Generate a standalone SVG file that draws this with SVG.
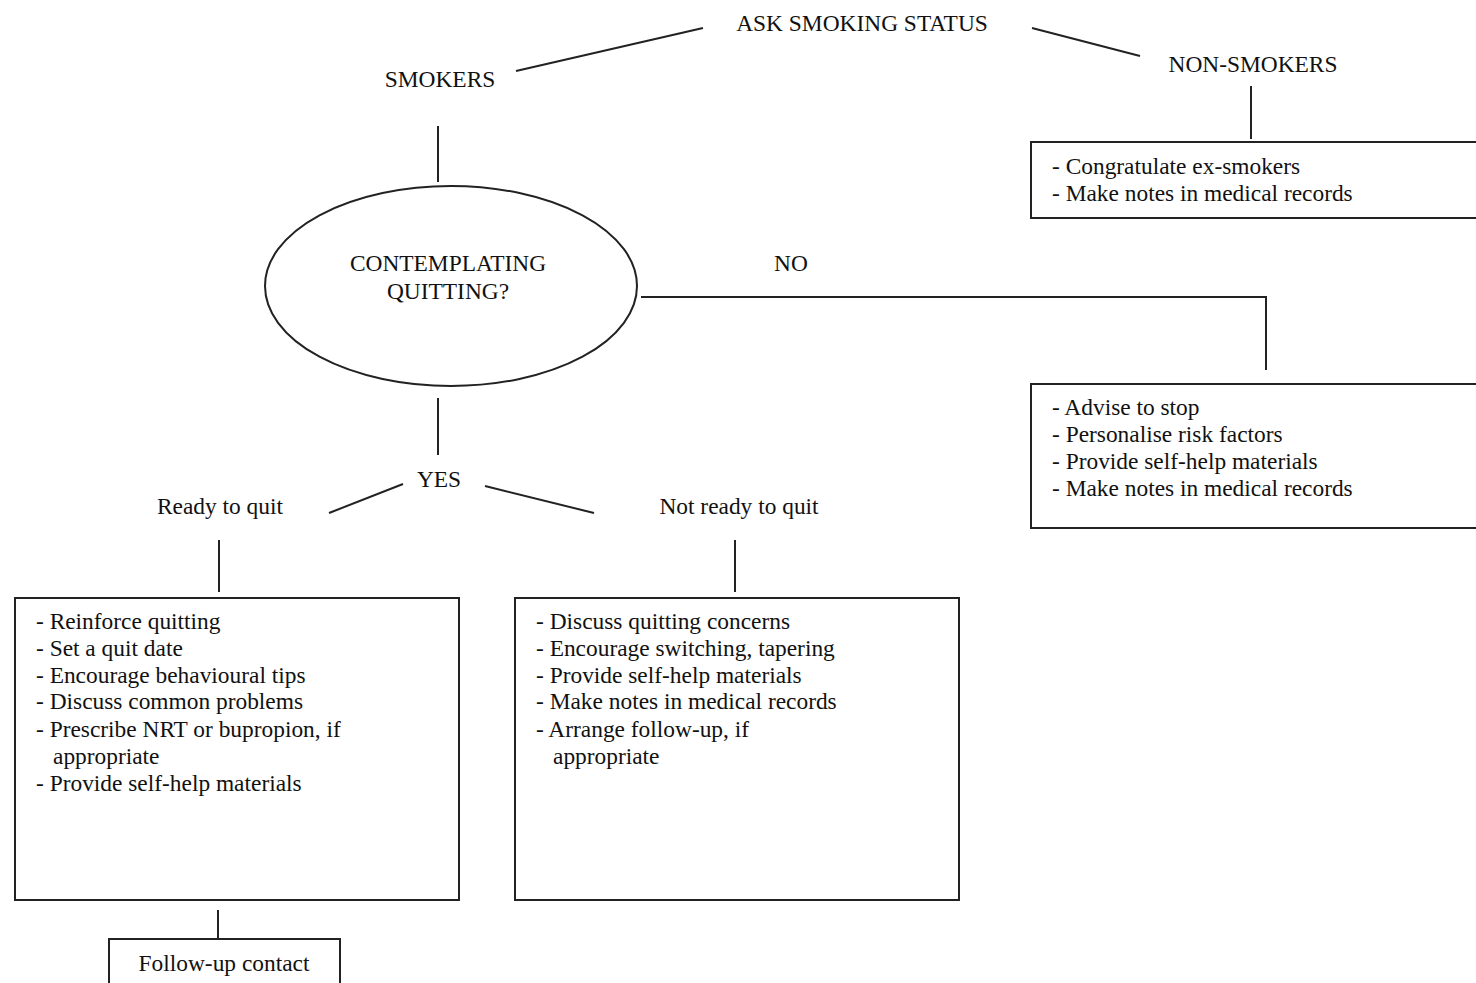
<svg xmlns="http://www.w3.org/2000/svg" width="1476" height="983" viewBox="0 0 1476 983">
<style>
text{font-family:"Liberation Serif","Times New Roman",serif;font-size:23.4px;fill:#111}
.c{text-anchor:middle}
.box{fill:#fff;stroke:#222;stroke-width:2}
.ln{fill:none;stroke:#222;stroke-width:2}
</style>
<rect width="1476" height="983" fill="#fff"/>
<g id="connectors">
<line class="ln" x1="703" y1="28" x2="516" y2="71"/>
<line class="ln" x1="1032" y1="28" x2="1140" y2="56"/>
<line class="ln" x1="1251" y1="86" x2="1251" y2="139"/>
<line class="ln" x1="438" y1="126" x2="438" y2="182"/>
<polyline class="ln" points="641,297 1266,297 1266,370"/>
<line class="ln" x1="438" y1="398" x2="438" y2="455"/>
<line class="ln" x1="403" y1="484" x2="329" y2="513"/>
<line class="ln" x1="485" y1="486" x2="594" y2="513"/>
<line class="ln" x1="219" y1="540" x2="219" y2="592"/>
<line class="ln" x1="735" y1="540" x2="735" y2="592"/>
<line class="ln" x1="218" y1="910" x2="218" y2="939"/>
</g>
<g id="ask"><text class="c" x="862" y="31">ASK SMOKING STATUS</text></g>
<g id="smokers"><text class="c" x="440" y="87">SMOKERS</text></g>
<g id="nonsmokers"><text class="c" x="1253" y="72">NON-SMOKERS</text></g>
<g id="nonsmokers-box">
<rect class="box" x="1031" y="142" width="450" height="76"/>
<text x="1052" y="174">- Congratulate ex-smokers</text>
<text x="1052" y="201">- Make notes in medical records</text>
</g>
<g id="contemplating">
<ellipse class="box" cx="451" cy="286" rx="186" ry="100"/>
<text class="c" x="448" y="271">CONTEMPLATING</text>
<text class="c" x="448" y="299">QUITTING?</text>
</g>
<g id="no"><text class="c" x="791" y="271">NO</text></g>
<g id="no-box">
<rect class="box" x="1031" y="384" width="450" height="144"/>
<text x="1052" y="415">- Advise to stop</text>
<text x="1052" y="442">- Personalise risk factors</text>
<text x="1052" y="469">- Provide self-help materials</text>
<text x="1052" y="496">- Make notes in medical records</text>
</g>
<g id="yes"><text class="c" x="439" y="487">YES</text></g>
<g id="ready"><text class="c" x="220" y="514">Ready to quit</text></g>
<g id="notready"><text class="c" x="739" y="514">Not ready to quit</text></g>
<g id="ready-box">
<rect class="box" x="15" y="598" width="444" height="302"/>
<text x="36" y="629">- Reinforce quitting</text>
<text x="36" y="656">- Set a quit date</text>
<text x="36" y="683">- Encourage behavioural tips</text>
<text x="36" y="709">- Discuss common problems</text>
<text x="36" y="737">- Prescribe NRT or bupropion, if</text>
<text x="53" y="764">appropriate</text>
<text x="36" y="791">- Provide self-help materials</text>
</g>
<g id="notready-box">
<rect class="box" x="515" y="598" width="444" height="302"/>
<text x="536" y="629">- Discuss quitting concerns</text>
<text x="536" y="656">- Encourage switching, tapering</text>
<text x="536" y="683">- Provide self-help materials</text>
<text x="536" y="709">- Make notes in medical records</text>
<text x="536" y="737">- Arrange follow-up, if</text>
<text x="553" y="764">appropriate</text>
</g>
<g id="followup">
<rect class="box" x="109" y="939" width="231" height="60"/>
<text class="c" x="224" y="971">Follow-up contact</text>
</g>
</svg>
